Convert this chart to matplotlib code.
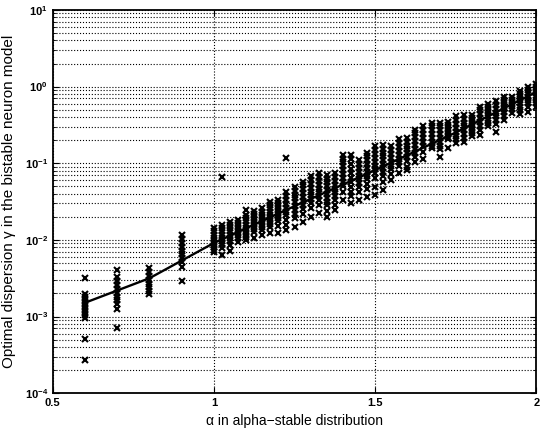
import numpy as np
import matplotlib
matplotlib.use("Agg")
import matplotlib.pyplot as plt
from matplotlib.ticker import LogLocator, FixedLocator, NullFormatter

plt.rcParams['font.family'] = ['Liberation Sans', 'DejaVu Sans']

# alpha values of the simulations
alphas = [0.6, 0.7, 0.8, 0.9, 1.0, 1.025, 1.05, 1.075, 1.1, 1.125, 1.15, 1.175,
          1.2, 1.225, 1.25, 1.275, 1.3, 1.325, 1.35, 1.375, 1.4, 1.425, 1.45,
          1.475, 1.5, 1.525, 1.55, 1.575, 1.6, 1.625, 1.65, 1.675, 1.7, 1.725,
          1.75, 1.775, 1.8, 1.825, 1.85, 1.875, 1.9, 1.925, 1.95, 1.975, 2.0]

# log10 of optimal dispersion, one list per alpha
log_gamma = [
    [-2.50, -2.70, -2.74, -2.78, -2.82, -2.86, -2.90, -2.94, -2.98, -3.02, -3.29, -3.57],
    [-2.39, -2.49, -2.54, -2.59, -2.64, -2.69, -2.74, -2.79, -2.84, -2.90, -3.15],
    [-2.37, -2.42, -2.47, -2.52, -2.57, -2.62, -2.67, -2.70],
    [-1.94, -1.99, -2.04, -2.09, -2.14, -2.19, -2.24, -2.29, -2.36, -2.53],
    [-1.85, -1.89, -1.93, -1.97, -2.01, -2.05, -2.09, -2.13, -2.16],
    [-1.18, -1.81, -1.85, -1.89, -1.93, -1.97, -2.01, -2.05, -2.11, -2.20],
    [-1.77, -1.81, -1.85, -1.89, -1.93, -1.97, -2.01, -2.07, -2.14],
    [-1.74, -1.78, -1.82, -1.86, -1.90, -1.94, -1.98, -2.03],
    [-1.61, -1.68, -1.72, -1.76, -1.80, -1.84, -1.88, -1.92, -1.96, -2.00],
    [-1.62, -1.66, -1.70, -1.74, -1.78, -1.82, -1.86, -1.90, -1.97],
    [-1.59, -1.63, -1.67, -1.71, -1.75, -1.79, -1.83, -1.87, -1.94],
    [-1.51, -1.55, -1.59, -1.63, -1.67, -1.71, -1.75, -1.79, -1.83, -1.91],
    [-1.48, -1.52, -1.56, -1.60, -1.64, -1.68, -1.72, -1.76, -1.82, -1.91],
    [-0.93, -1.38, -1.43, -1.48, -1.53, -1.58, -1.63, -1.68, -1.74, -1.80, -1.87],
    [-1.31, -1.36, -1.41, -1.46, -1.51, -1.56, -1.61, -1.66, -1.72, -1.83],
    [-1.24, -1.29, -1.34, -1.39, -1.44, -1.49, -1.54, -1.60, -1.66, -1.77],
    [-1.17, -1.22, -1.27, -1.32, -1.37, -1.42, -1.47, -1.52, -1.58, -1.70],
    [-1.13, -1.18, -1.23, -1.28, -1.33, -1.38, -1.43, -1.48, -1.55, -1.65],
    [-1.15, -1.20, -1.25, -1.30, -1.35, -1.40, -1.45, -1.50, -1.55, -1.62, -1.70],
    [-1.13, -1.18, -1.23, -1.28, -1.33, -1.38, -1.43, -1.48, -1.54, -1.61],
    [-0.89, -0.94, -0.99, -1.04, -1.09, -1.14, -1.19, -1.24, -1.30, -1.38, -1.48],
    [-0.89, -0.95, -1.01, -1.07, -1.13, -1.19, -1.25, -1.31, -1.37, -1.43, -1.52],
    [-0.96, -1.01, -1.06, -1.11, -1.16, -1.21, -1.26, -1.31, -1.38, -1.48],
    [-0.86, -0.91, -0.96, -1.01, -1.06, -1.11, -1.16, -1.21, -1.27, -1.34, -1.44],
    [-0.78, -0.83, -0.88, -0.93, -0.98, -1.03, -1.08, -1.13, -1.19, -1.31, -1.41],
    [-0.76, -0.81, -0.86, -0.91, -0.96, -1.01, -1.06, -1.11, -1.17, -1.24, -1.35],
    [-0.78, -0.83, -0.88, -0.93, -0.98, -1.03, -1.08, -1.14, -1.22],
    [-0.69, -0.74, -0.79, -0.84, -0.89, -0.94, -0.99, -1.04, -1.13],
    [-0.67, -0.72, -0.77, -0.82, -0.87, -0.92, -0.97, -1.05, -1.09],
    [-0.56, -0.61, -0.66, -0.71, -0.76, -0.81, -0.86, -0.92, -0.98],
    [-0.52, -0.57, -0.62, -0.67, -0.72, -0.77, -0.85, -0.94],
    [-0.47, -0.52, -0.57, -0.62, -0.67, -0.72, -0.78, -0.80],
    [-0.47, -0.52, -0.57, -0.62, -0.67, -0.72, -0.77, -0.82, -0.92],
    [-0.46, -0.50, -0.54, -0.58, -0.62, -0.66, -0.69, -0.80],
    [-0.39, -0.44, -0.49, -0.54, -0.59, -0.64, -0.69, -0.73],
    [-0.37, -0.42, -0.47, -0.52, -0.57, -0.62, -0.67, -0.72],
    [-0.37, -0.41, -0.45, -0.49, -0.53, -0.57, -0.61, -0.65],
    [-0.26, -0.31, -0.36, -0.41, -0.46, -0.51, -0.56, -0.63],
    [-0.23, -0.27, -0.31, -0.35, -0.39, -0.43, -0.47, -0.52],
    [-0.19, -0.24, -0.29, -0.34, -0.39, -0.44, -0.49, -0.59],
    [-0.13, -0.17, -0.21, -0.25, -0.29, -0.33, -0.38, -0.43],
    [-0.13, -0.17, -0.21, -0.25, -0.29, -0.34],
    [-0.06, -0.10, -0.14, -0.18, -0.22, -0.26, -0.31, -0.36],
    [-0.01, -0.05, -0.09, -0.13, -0.17, -0.21, -0.26, -0.33],
    [0.03, -0.01, -0.05, -0.09, -0.13, -0.17, -0.21, -0.26],
]

# fitted curve
fit_alpha = [0.6, 0.7, 0.8, 0.9, 1.0, 1.25, 1.5, 1.75, 2.0]
fit_log_gamma = [-2.82, -2.66, -2.50, -2.27, -2.04, -1.56, -1.09, -0.60, -0.07]

xs = []
ys = []
for a, col in zip(alphas, log_gamma):
    for v in col:
        xs.append(a)
        ys.append(10 ** v)

fig = plt.figure(figsize=(5.5, 4.33), dpi=100)
ax = fig.add_axes([0.096, 0.092, 0.879, 0.885])

ax.plot(xs, ys, 'x', color='black', markersize=4.3, markeredgewidth=1.5)
ax.plot(fit_alpha, 10 ** np.array(fit_log_gamma), color='black', linewidth=1.7)

ax.set_yscale('log')
ax.set_xlim(0.5, 2)
ax.set_ylim(1e-4, 1e1)
ax.xaxis.set_major_locator(FixedLocator([0.5, 1, 1.5, 2]))
ax.set_xticklabels(['0.5', '1', '1.5', '2'])
ax.yaxis.set_major_locator(LogLocator(base=10, numticks=10))
ax.yaxis.set_minor_locator(LogLocator(base=10, subs=np.arange(2, 10), numticks=10))
ax.yaxis.set_minor_formatter(NullFormatter())

ax.grid(True, which='major', axis='both', linestyle=':', color='black', linewidth=0.8)
ax.grid(True, which='minor', axis='y', linestyle=':', color='black', linewidth=0.8)

ax.tick_params(which='both', direction='in', top=True, right=True)
ax.tick_params(which='major', length=4, labelsize=8)
ax.tick_params(which='minor', length=2)
for lab in ax.get_xticklabels() + ax.get_yticklabels():
    lab.set_fontweight('bold')
for s in ax.spines.values():
    s.set_linewidth(1.3)

ax.set_xlabel('α in alpha\u2212stable distribution', fontsize=10)
ax.set_ylabel('Optimal dispersion γ in the bistable neuron model', fontsize=11, labelpad=6)

fig.savefig('out.png', dpi=100)
